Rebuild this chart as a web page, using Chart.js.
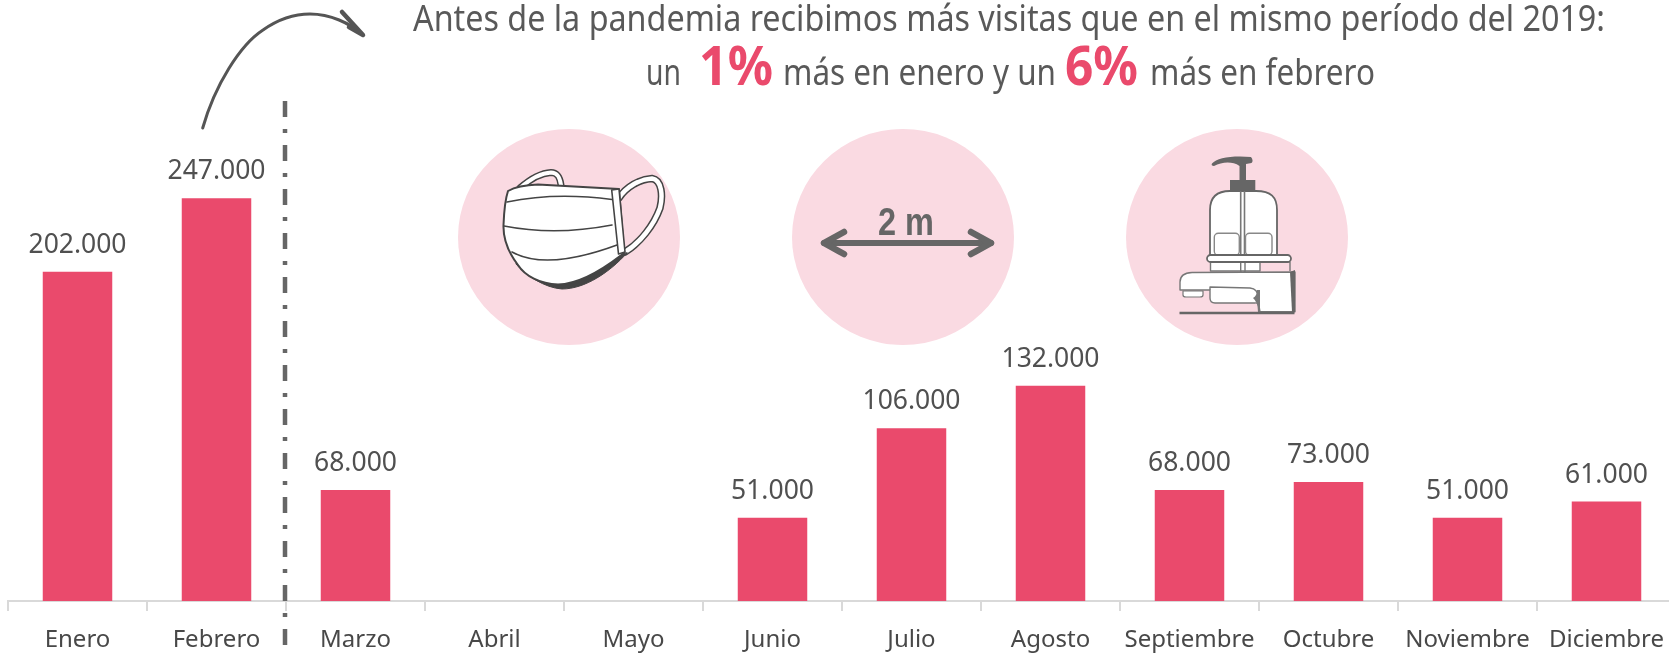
<!DOCTYPE html>
<html lang="es"><head><meta charset="utf-8">
<script src="https://cdn.jsdelivr.net/npm/chart.js@4"></script>
<style>
html,body{margin:0;padding:0;background:#fff;width:1669px;height:656px;overflow:hidden}
#wrap{position:absolute;left:0;top:0;width:1680px;height:656px}
#deco{position:absolute;left:0;top:0;width:1669px;height:656px;pointer-events:none}
.t{font-family:"Noto Sans",sans-serif;fill:#595959;font-size:36px}
.b{font-family:"Noto Sans",sans-serif;font-weight:700;fill:#ea4a6c;font-size:53px}
</style></head><body>
<div id="wrap"><canvas id="c" width="1680" height="656"></canvas></div>
<svg id="deco" viewBox="0 0 1669 656" xmlns="http://www.w3.org/2000/svg">
  <text class="t" x="413" y="31" textLength="1192" lengthAdjust="spacingAndGlyphs">Antes de la pandemia recibimos más visitas que en el mismo período del 2019:</text>
  <text class="t" x="646" y="85" textLength="35" lengthAdjust="spacingAndGlyphs">un</text>
  <text class="b" x="699" y="85" textLength="74" lengthAdjust="spacingAndGlyphs">1%</text>
  <text class="t" x="783" y="85" textLength="273" lengthAdjust="spacingAndGlyphs">más en enero y un</text>
  <text class="b" x="1065" y="85" textLength="73" lengthAdjust="spacingAndGlyphs">6%</text>
  <text class="t" x="1150" y="85" textLength="225" lengthAdjust="spacingAndGlyphs">más en febrero</text>

  <!-- curved arrow -->
  <path d="M202.7 128 C215 85 240 45 263 30 C280 18 295 14 310 14 C330 14 350 23 363 35" fill="none" stroke="#555" stroke-width="3" stroke-linecap="round"/>
  <path d="M342 12 L363 35 L349 27" fill="none" stroke="#555" stroke-width="4.5" stroke-linecap="round" stroke-linejoin="round"/>

  <ellipse cx="569" cy="237" rx="111" ry="108" fill="#fadae2"/>
  <ellipse cx="903" cy="237" rx="111" ry="108" fill="#fadae2"/>
  <ellipse cx="1237" cy="237" rx="111" ry="108" fill="#fadae2"/>

  <!-- mask -->
  <g fill="none" stroke-linecap="round" stroke-linejoin="round">
    <path d="M520 188 C528 181 540 173 551 172.5 C558 172.5 560 178 561 185" stroke="#444" stroke-width="7"/>
    <path d="M520 188 C528 181 540 173 551 172.5 C558 172.5 560 178 561 185" stroke="#fff" stroke-width="4"/>
    <path d="M619 198 C626 187 640 179 652 178.5 C662 180 663 196 660 208 C654 225 640 243 625 252" stroke="#444" stroke-width="7.5"/>
    <path d="M619 198 C626 187 640 179 652 178.5 C662 180 663 196 660 208 C654 225 640 243 625 252" stroke="#fff" stroke-width="4.5"/>
    <path d="M627 253 C610 272 585 289 562 289 C545 288 525 275 516 264 Z" fill="#444" stroke="#444" stroke-width="1"/>
    <path d="M508 191 C515 187 525 185 538 184.5 L619 189 L624 253 C605 268 580 284 558 284.5 C540 284 525 276 518 265 C508 252 503 240 503.5 225 C504 212 505 200 508 191 Z" fill="#fff" stroke="#444" stroke-width="2"/>
    <path d="M507 202 Q555 192 612 199.5" stroke="#444" stroke-width="1.6"/>
    <path d="M504 226 Q555 236 612 225" stroke="#444" stroke-width="1.6"/>
    <path d="M512 252 C530 262 560 266 617 245" stroke="#444" stroke-width="1.6"/>
    <path d="M611.7 190 L619 189 L625 252 L618.5 254 Z" fill="#fff" stroke="#444" stroke-width="1.6"/>
  </g>

  <!-- 2 m -->
  <text x="906" y="235" text-anchor="middle" font-family="'Liberation Sans Narrow','Liberation Sans',sans-serif" font-weight="700" font-size="39" fill="#666" textLength="56" lengthAdjust="spacingAndGlyphs">2 m</text>
  <g fill="none" stroke="#666" stroke-linecap="round" stroke-linejoin="round">
    <path d="M824 243 L991 243" stroke-width="6"/>
    <path d="M844 232 L824 243 L844 254 M971 232 L991 243 L971 254" stroke-width="6.5"/>
  </g>

  <!-- soap + tap -->
  <g stroke-linejoin="round">
    <path d="M1212 163.5 C1216 159 1226 156.5 1240 156.5 L1251 157 C1253 159 1253 162 1251.5 163 L1246 164 L1246 180 L1255.3 180 L1255.3 191 L1230 191 L1230 180 L1239.5 180 L1239.5 166 C1232 161 1222 162 1214 166 C1212 166 1211 165 1212 163.5 Z" fill="#666"/>
    <path d="M1210 256 L1210 210 C1210 197 1217 191 1230 191 L1256 191 C1271 191 1277 197 1277 210 L1277 256 Z" fill="#fff" stroke="#666" stroke-width="1.8"/>
    <path d="M1240.7 191 L1240.7 272 M1244.5 191 L1244.5 272" stroke="#777" stroke-width="1.6" fill="none"/>
    <rect x="1214.3" y="233.3" width="25" height="22" rx="4" fill="#fff" stroke="#888" stroke-width="1.4"/>
    <rect x="1245.5" y="233.3" width="26.5" height="22" rx="4" fill="#fff" stroke="#888" stroke-width="1.4"/>
    <rect x="1210.5" y="261" width="49.5" height="10" fill="#fff" stroke="#777" stroke-width="1.4"/>
    <path d="M1260 262 L1290 262 L1290 271" fill="none" stroke="#777" stroke-width="1.4"/>
    <path d="M1240.7 261 L1240.7 272 M1245 261 L1245 272" stroke="#777" stroke-width="1.4" fill="none"/>
    <rect x="1207" y="255" width="84" height="7" rx="3.5" fill="#fff" stroke="#666" stroke-width="1.8"/>
    <path d="M1180 282 Q1180 273 1192 272.5 L1295 272 L1295 311.7 L1260 311.7 Q1259 302 1255 303 L1215 303 Q1210 303 1210 298 L1210 290 L1180 290 Z" fill="#fff" stroke="#777" stroke-width="1.4"/>
    <path d="M1290 272 L1295 270 L1295 312 L1292 312 Z" fill="#666"/>
    <path d="M1253 298 Q1257 296 1257 290 L1260 290 L1260 312 L1258 312 Q1258 302 1253 298 Z" fill="#777"/>
    <path d="M1210 290 L1210 287 L1250 288 Q1258 289 1258 297" fill="none" stroke="#777" stroke-width="1.4"/>
    <path d="M1183 291 L1203 291 L1203 295 Q1203 297 1200 297 L1186 297 Q1183 297 1183 295 Z" fill="#fff" stroke="#777" stroke-width="1.2"/>
    <path d="M1179.5 313 L1294.5 313" stroke="#666" stroke-width="2.6" fill="none"/>
  </g>
</svg>
<script>
const categories = ["Enero","Febrero","Marzo","Abril","Mayo","Junio","Julio","Agosto","Septiembre","Octubre","Noviembre","Diciembre"];
const visitas = [202000,247000,68000,null,null,51000,106000,132000,68000,73000,51000,61000];
const yMax = 360000;

const fmt = v => String(v).replace(/\B(?=(\d{3})+$)/g, ".");

const valueLabels = {
  id:"valueLabels",
  afterDatasetsDraw(chart){
    const {ctx} = chart;
    const meta = chart.getDatasetMeta(0);
    ctx.save();
    ctx.font = '26.5px "Noto Sans", sans-serif';
    ctx.fillStyle = "#505050";
    ctx.textAlign = "center";
    ctx.textBaseline = "alphabetic";
    meta.data.forEach((bar,i)=>{
      if (visitas[i]==null) return;
      ctx.fillText(fmt(visitas[i]), bar.x, bar.y-19);
    });
    ctx.restore();
  }
};

const divider = {
  id:"divider",
  afterDraw(chart){
    const {ctx, scales:{x}} = chart;
    const px = (x.getPixelForValue(1)+x.getPixelForValue(2))/2 - 1;
    ctx.save();
    ctx.strokeStyle = "#666";
    ctx.lineWidth = 4.5;
    ctx.setLineDash([16,12,4,12]);
    ctx.beginPath();
    ctx.moveTo(px,101);
    ctx.lineTo(px,645);
    ctx.stroke();
    ctx.restore();
  }
};

new Chart(document.getElementById("c"),{
  type:"bar",
  data:{labels:categories,datasets:[{data:visitas,backgroundColor:"#ea4a6c",borderWidth:0,barPercentage:0.5,categoryPercentage:1}]},
  options:{
    responsive:false,animation:false,
    layout:{padding:{left:8,right:4,top:14,bottom:0}},
    plugins:{legend:{display:false},tooltip:{enabled:false},title:{display:false}},
    scales:{
      x:{
        offset:true,
        afterFit(s){s.height=55;},
        border:{color:"#d9d9d9",width:2},
        grid:{display:true,drawOnChartArea:false,drawTicks:true,tickLength:10,color:"#d9d9d9",lineWidth:2},
        ticks:{autoSkip:false,maxRotation:0,minRotation:0,padding:15,color:"#484848",font:{family:'"Noto Sans", sans-serif',size:24}}
      },
      y:{display:false,min:0,max:yMax}
    }
  },
  plugins:[valueLabels,divider]
});
</script>
</body></html>
